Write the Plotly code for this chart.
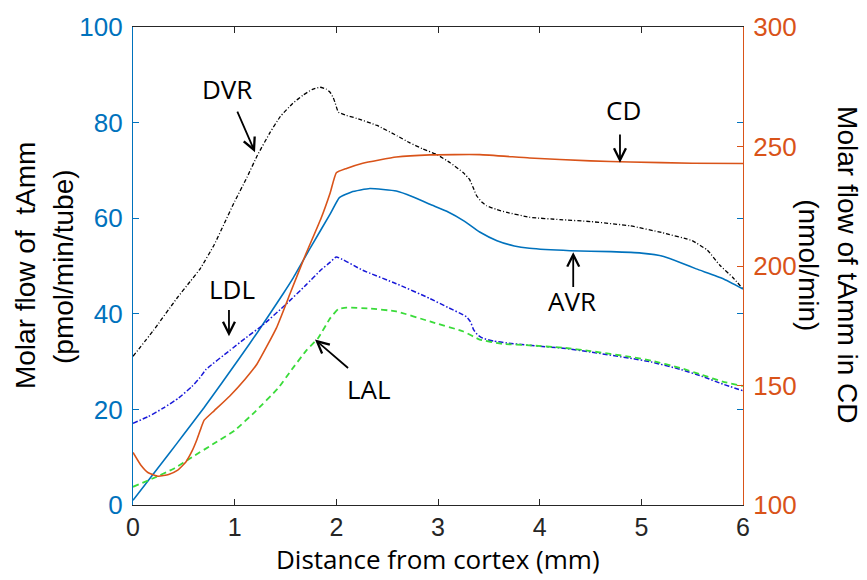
import plotly.graph_objects as go

# Distance from cortex (mm) and molar flow of total ammonia for each tubule
dvr_x = [0, 0.2, 0.43, 0.56, 0.66, 0.8, 0.9, 1.0, 1.12, 1.22, 1.35, 1.45, 1.57, 1.67, 1.76,
         1.84, 1.9, 1.94, 1.97, 1.99, 2.02, 2.1, 2.2, 2.4, 2.6, 2.72, 2.85, 2.99, 3.12, 3.25,
         3.31, 3.35, 3.38, 3.43, 3.48, 3.58, 3.68, 3.9, 4.2, 4.5, 4.89, 5.2, 5.5, 5.65, 5.77,
         5.9, 6.0]
dvr_y = [31.1, 36.5, 43.2, 46.7, 49.4, 54.5, 59.0, 63.5, 68.5, 73.0, 78.0, 81.3, 84.0, 85.7, 86.9,
         87.4, 87.0, 86.3, 85.2, 84.0, 82.2, 81.5, 80.9, 79.4, 77.2, 75.8, 74.5, 73.3, 71.6, 69.5,
         68.1, 66.2, 64.7, 63.4, 62.6, 61.8, 61.2, 60.2, 59.7, 59.3, 58.4, 57.0, 55.3, 53.3, 50.2,
         47.6, 45.2]

avr_x = [0, 0.35, 0.5, 0.7, 1.05, 1.23, 1.48, 1.57, 1.75, 1.94, 2.03, 2.15, 2.33, 2.59, 2.75,
         2.92, 3.1, 3.25, 3.41, 3.58, 3.75, 3.9, 4.3, 4.7, 5.0, 5.22, 5.4, 5.54, 5.8, 6.0]
avr_y = [1.0, 10.6, 14.8, 20.4, 30.8, 36.3, 44.3, 47.3, 54.0, 60.9, 64.3, 65.5, 66.2, 65.7, 64.5,
         62.9, 61.3, 59.5, 57.1, 55.3, 54.2, 53.7, 53.2, 53.0, 52.7, 52.0, 50.6, 49.4, 47.4, 45.2]

ldl_x = [0, 0.15, 0.3, 0.45, 0.58, 0.66, 0.72, 0.95, 1.1, 1.28, 1.5, 1.7, 1.85, 1.94, 2.0, 2.26,
         2.59, 2.92, 3.1, 3.28, 3.32, 3.35, 3.39, 3.44, 3.55, 3.68, 3.9, 4.23, 4.5, 4.89, 5.1,
         5.38, 5.6, 5.8, 6.0]
ldl_y = [17.1, 18.5, 20.3, 22.4, 24.8, 26.7, 28.4, 32.3, 34.8, 37.7, 41.9, 46.0, 49.2, 50.8, 51.9,
         49.1, 46.3, 43.2, 41.3, 39.4, 38.3, 36.7, 35.6, 34.9, 34.3, 33.9, 33.4, 32.8, 32.0, 30.7,
         29.9, 28.4, 26.9, 25.3, 23.9]

lal_x = [0, 0.2, 0.4, 0.58, 0.8, 1.0, 1.2, 1.43, 1.55, 1.7, 1.82, 1.94, 2.02, 2.1, 2.33,
         2.59, 2.92, 3.25, 3.41, 3.64, 3.9, 4.23, 4.5, 4.89, 5.1, 5.38, 5.6, 5.8, 6.0]
lal_y = [3.8, 5.6, 7.6, 10.0, 12.9, 15.6, 19.5, 24.5, 28.0, 32.2, 34.9, 39.1, 41.0, 41.3, 41.1,
         40.5, 38.4, 36.3, 34.6, 33.7, 33.4, 32.9, 32.2, 31.0, 30.2, 28.7, 27.2, 25.8, 24.9]

# Collecting duct flow, plotted against the right axis (nmol/min)
cd_x = [0, 0.08, 0.15, 0.25, 0.35, 0.44, 0.52, 0.58, 0.63, 0.68, 0.7, 0.8, 0.95, 1.1, 1.22,
        1.41, 1.55, 1.7, 1.85, 1.94, 2.0, 2.1, 2.26, 2.59, 2.92, 3.41, 3.9, 4.5, 4.89, 5.5, 6.0]
cd_y = [122.0, 116.5, 113.5, 112.0, 112.8, 114.6, 118.0, 122.5, 127.5, 133.5, 135.5, 139.5, 145.5,
        152.5, 159.0, 174.0, 189.0, 205.0, 220.0, 230.7, 239.0, 240.8, 243.0, 245.6, 246.5, 246.6,
        245.2, 244.0, 243.5, 243.0, 242.9]

x_ticks = [0, 1, 2, 3, 4, 5, 6]
left_ticks = [0, 20, 40, 60, 80, 100]
right_ticks = [100, 150, 200, 250, 300]

BLUE = "#0072BD"
ORANGE = "#D95319"
DARK = "#262626"
TICK_FONT = dict(family="Liberation Sans, Arial, sans-serif", size=26)
LABEL_FONT = dict(family="Open Sans, sans-serif", size=26, color="black")
TITLE_FONT = dict(family="Liberation Sans, Arial, sans-serif", size=28, color="black")

SMOOTH = dict(shape="spline", smoothing=0.4)

fig = go.Figure()
fig.add_trace(go.Scatter(x=dvr_x, y=dvr_y, mode="lines", name="DVR",
                         line=dict(color="black", width=1.3, dash="4px,2px,1px,2px", **SMOOTH)))
fig.add_trace(go.Scatter(x=avr_x, y=avr_y, mode="lines", name="AVR",
                         line=dict(color=BLUE, width=1.6, **SMOOTH)))
fig.add_trace(go.Scatter(x=ldl_x, y=ldl_y, mode="lines", name="LDL",
                         line=dict(color="#1818D8", width=1.5, dash="5px,2px,1.5px,2px", **SMOOTH)))
fig.add_trace(go.Scatter(x=lal_x, y=lal_y, mode="lines", name="LAL",
                         line=dict(color="#3ADB3A", width=1.8, dash="6px,4px", **SMOOTH)))
fig.add_trace(go.Scatter(x=cd_x, y=cd_y, mode="lines", name="CD", yaxis="y2",
                         line=dict(color=ORANGE, width=1.6, **SMOOTH)))

fig.update_layout(
    width=867, height=580,
    margin=dict(l=133, r=124, t=23, b=75),
    paper_bgcolor="white", plot_bgcolor="white",
    showlegend=False,
    xaxis=dict(range=[0, 6], tickvals=x_ticks, ticks="inside", ticklen=6, tickcolor=DARK,
               showline=True, linecolor=DARK, linewidth=1.2, mirror="ticks",
               showgrid=False, zeroline=False, tickfont=dict(TICK_FONT, size=25, color=DARK)),
    yaxis=dict(range=[0, 100], tickvals=left_ticks, ticks="inside", ticklen=6, tickcolor=BLUE,
               showline=True, linecolor=BLUE, linewidth=1.2, showgrid=False, zeroline=False,
               tickfont=dict(TICK_FONT, color=BLUE), ticklabelstandoff=4),
    yaxis2=dict(range=[100, 300], tickvals=right_ticks, overlaying="y", side="right",
                anchor="x", ticks="inside", ticklen=6, tickcolor=ORANGE,
                showline=True, linecolor=ORANGE, linewidth=1.2, showgrid=False,
                zeroline=False, tickfont=dict(TICK_FONT, color=ORANGE), ticklabelstandoff=4),
    yaxis3=dict(range=[0, 100], tickvals=left_ticks, overlaying="y", side="right",
                anchor="x", ticks="inside", ticklen=6, tickcolor=BLUE, showline=False,
                showgrid=False, zeroline=False, showticklabels=False),
)

# keep the third axis registered so its mirrored ticks are drawn
fig.add_trace(go.Scatter(x=[None], y=[None], yaxis="y3", showlegend=False, hoverinfo="skip"))

# Curve labels
labels = [("DVR", 0.925, 87.1), ("CD", 4.82, 82.6), ("AVR", 4.32, 42.7),
          ("LDL", 0.975, 45.2), ("LAL", 2.32, 24.3)]
for text, lx, ly in labels:
    fig.add_annotation(x=lx, y=ly, xref="x", yref="y", text=text, showarrow=False,
                       font=LABEL_FONT, xanchor="center", yanchor="middle")

# Pointer arrows: (tail x, tail y, head x, head y)
arrows = [(1.02, 82.6, 1.20, 73.8), (4.79, 77.8, 4.79, 71.6), (4.33, 45.3, 4.33, 52.9),
          (0.944, 41.1, 0.944, 35.3), (2.13, 28.4, 1.79, 34.6)]
for tx, ty, hx, hy in arrows:
    fig.add_annotation(x=hx, y=hy, ax=tx, ay=ty, xref="x", yref="y", axref="x", ayref="y",
                       text="", showarrow=True, arrowhead=5, arrowsize=1.3, arrowwidth=1.8,
                       arrowcolor="black", standoff=0, startstandoff=0)

# Axis titles
fig.add_annotation(x=0.5, y=-0.114, xref="paper", yref="paper", showarrow=False,
                   text="Distance from cortex (mm)", font=dict(LABEL_FONT, size=26),
                   xanchor="center", yanchor="middle")
fig.add_annotation(x=-0.177, y=0.5, xref="paper", yref="paper", showarrow=False,
                   text="Molar flow of  tAmm", textangle=-90, font=TITLE_FONT,
                   xanchor="center", yanchor="middle")
fig.add_annotation(x=-0.1148, y=0.5, xref="paper", yref="paper", showarrow=False,
                   text="(pmol/min/tube)", textangle=-90, font=TITLE_FONT,
                   xanchor="center", yanchor="middle")
fig.add_annotation(x=1.172, y=0.502, xref="paper", yref="paper", showarrow=False,
                   text="Molar flow of tAmm in CD", textangle=90, font=TITLE_FONT,
                   xanchor="center", yanchor="middle")
fig.add_annotation(x=1.108, y=0.502, xref="paper", yref="paper", showarrow=False,
                   text="(nmol/min)", textangle=90, font=TITLE_FONT,
                   xanchor="center", yanchor="middle")

fig.write_html("out.html")
